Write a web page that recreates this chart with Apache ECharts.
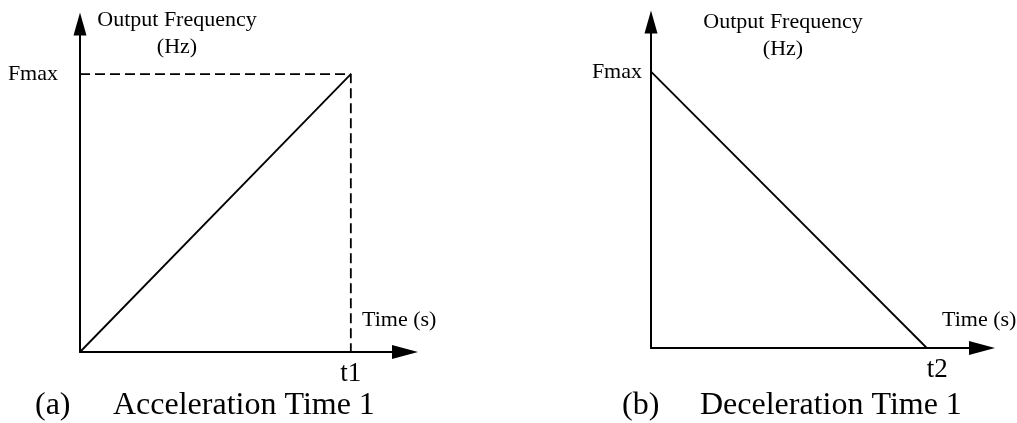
<!DOCTYPE html>
<html>
<head>
<meta charset="utf-8">
<script src="https://cdn.jsdelivr.net/npm/echarts@6/dist/echarts.min.js"></script>
<style>
  html, body { margin: 0; padding: 0; background: #fff; }
  #chart { width: 1017px; height: 423px; }
</style>
</head>
<body>
<div id="chart"></div>
<script>
// data (normalised: Fmax = 1, t1 = t2 = 1)
const accelTime = [0, 1]
const accelFreq = [0, 1]
const decelTime = [0, 1]
const decelFreq = [1, 0]
// dashed guide to Fmax / t1
const guideTime = [0, 1, 1]
const guideFreq = [1, 1, 0]

const yLabel = 'Fmax'
const xLabels = ['t1', 't2']
const captionTags = ['(a)', '(b)']
const captionTexts = ['Acceleration Time 1', 'Deceleration Time 1']

const FONT = '"Liberation Serif", "Times New Roman", serif'
const pairs = (xs, ys) => xs.map((x, i) => [x, ys[i]])

/* 每个坐标轴的公共样式 */
const axisLine = (size) => ({
  show: true,
  symbol: ['none', 'triangle'],
  symbolSize: size,
  lineStyle: { color: '#000', width: 2 }
})

const xAxisOf = (i, label, gap, align) => ({
  type: 'value',
  gridIndex: i,
  min: 0,
  max: 1.2,
  axisLine: axisLine([14, 26]),
  axisTick: { show: false },
  splitLine: { show: false },
  axisLabel: {
    customValues: [1],
    formatter: () => label,
    fontFamily: FONT,
    fontSize: 27,
    color: '#000',
    margin: 8,
    align: align
  },
  name: 'Time (s)',
  nameLocation: 'end',
  nameGap: gap[0],
  nameMoveOverlap: false,
  nameTextStyle: {
    fontFamily: FONT,
    fontSize: 22,
    lineHeight: 22,
    color: '#000',
    verticalAlign: 'bottom',
    padding: [0, 0, gap[1], 0]
  }
})

const yAxisOf = (i, margin, gap, shift) => ({
  type: 'value',
  gridIndex: i,
  min: 0,
  max: 1.18,
  axisLine: axisLine([13, 23]),
  axisTick: { show: false },
  splitLine: { show: false },
  axisLabel: {
    customValues: [1],
    formatter: () => yLabel,
    fontFamily: FONT,
    fontSize: 22,
    color: '#000',
    margin: margin
  },
  name: 'Output Frequency\n(Hz)',
  nameLocation: 'end',
  nameGap: gap,
  nameMoveOverlap: false,
  nameTextStyle: {
    fontFamily: FONT,
    fontSize: 22,
    lineHeight: 27,
    color: '#000',
    align: 'center',
    padding: [0, 0, 0, shift]
  }
})

const captionTitle = (text, left) => ({
  text: text,
  left: left,
  top: 390,
  padding: 0,
  textStyle: { fontFamily: FONT, fontSize: 32, fontWeight: 'normal', color: '#000' }
})

const option = {
  animation: false,
  backgroundColor: '#fff',
  title: [
    captionTitle(captionTags[0], 35),
    captionTitle(captionTexts[0], 113),
    captionTitle(captionTags[1], 622),
    captionTitle(captionTexts[1], 700)
  ],
  grid: [
    { left: 80, top: 24, width: 325, height: 328, outerBoundsMode: 'none' },
    { left: 651, top: 22, width: 331, height: 326, outerBoundsMode: 'none' }
  ],
  xAxis: [
    xAxisOf(0, xLabels[0], [-43, 21], 'center'),
    xAxisOf(1, xLabels[1], [-40, 17], 'left')
  ],
  yAxis: [
    yAxisOf(0, 22, -37, 194),
    yAxisOf(1, 9, -41, 264)
  ],
  series: [
    {
      type: 'line',
      xAxisIndex: 0,
      yAxisIndex: 0,
      data: pairs(guideTime, guideFreq),
      symbol: 'none',
      lineStyle: { color: '#000', width: 1.8, type: [10, 5] }
    },
    {
      type: 'line',
      xAxisIndex: 0,
      yAxisIndex: 0,
      data: pairs(accelTime, accelFreq),
      symbol: 'none',
      lineStyle: { color: '#000', width: 1.8 }
    },
    {
      type: 'line',
      xAxisIndex: 1,
      yAxisIndex: 1,
      data: pairs(decelTime, decelFreq),
      symbol: 'none',
      lineStyle: { color: '#000', width: 1.8 }
    }
  ]
}

const myChart = echarts.init(document.getElementById('chart'))
myChart.setOption(option)
</script>
</body>
</html>
